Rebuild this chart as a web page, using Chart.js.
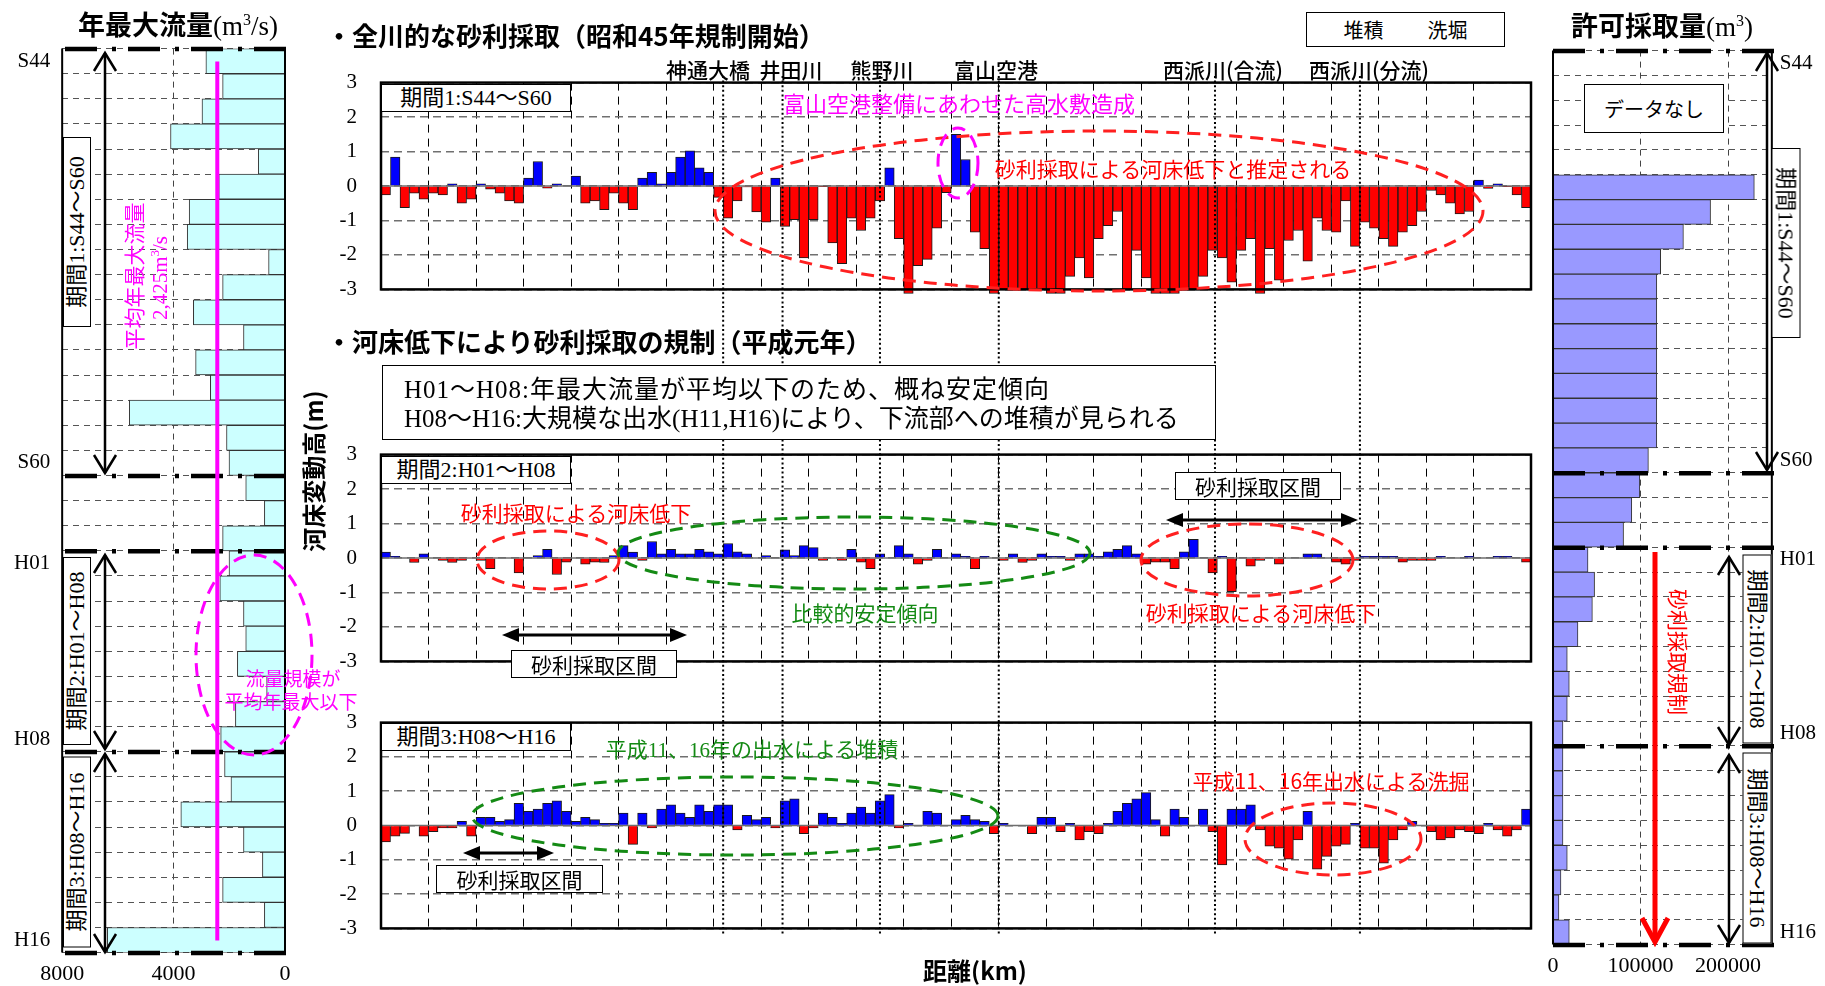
<!DOCTYPE html>
<html lang="ja">
<head>
<meta charset="utf-8">
<title>神通川 河床変動と砂利採取</title>
<script src="https://cdn.jsdelivr.net/npm/chart.js@4.4.1/dist/chart.umd.min.js"></script>
<style>
  html, body { margin: 0; padding: 0; background: #fff; }
  #page { position: relative; width: 1825px; height: 986px; overflow: hidden; background: #fff; }
  .wrap { position: absolute; left: 0; top: 0; }
  #overlay { position: absolute; left: 0; top: 0; pointer-events: none; }
  .jp { font-family: 'Noto Sans CJK JP', sans-serif; }
  .mix { font-family: 'Liberation Serif', 'Noto Sans CJK JP', serif; }
  .t { position: absolute; white-space: nowrap; line-height: 1; transform: translate(-50%, -50%); }
  .l { position: absolute; white-space: nowrap; line-height: 1; transform: translate(0, -50%); }
  .box { position: absolute; box-sizing: border-box; border: 1.5px solid #000; background: #fff;
         display: flex; align-items: center; justify-content: center; white-space: nowrap; line-height: 1; }
  .rot { transform: translate(-50%, -50%) rotate(-90deg); }
  .rotR { transform: translate(-50%, -50%) rotate(90deg); }
  .mag { color: #ff00ff; }
  .red { color: #ff0000; }
  .grn { color: #148a14; }
  .lm { font-size: 21px; font-weight: 500; }
</style>
</head>
<body>
<div id="page">
  <div class="wrap" id="wFlow"><canvas id="flowChart" width="320" height="986"></canvas></div>
  <div class="wrap" id="wBed1"><canvas id="bed1" width="1250" height="240"></canvas></div>
  <div class="wrap" id="wBed2"><canvas id="bed2" width="1250" height="240"></canvas></div>
  <div class="wrap" id="wBed3"><canvas id="bed3" width="1250" height="240"></canvas></div>
  <div class="wrap" id="wPermit"><canvas id="permitChart" width="300" height="986"></canvas></div>
  <svg id="overlay" width="1825" height="986" xmlns="http://www.w3.org/2000/svg"></svg>

  <!-- 見出し -->
  <div class="t" style="left:178px;top:25px;font-size:27px;"><b class="jp">年最大流量</b><span class="mix">(m<sup style="font-size:16px">3</sup>/s)</span></div>
  <div class="t" style="left:1662px;top:26px;font-size:27px;"><b class="jp">許可採取量</b><span class="mix">(m<sup style="font-size:16px">3</sup>)</span></div>
  <div class="l jp" style="left:326px;top:35px;font-size:26px;font-weight:bold;">・全川的な砂利採取（昭和45年規制開始）</div>
  <div class="l jp" style="left:326px;top:341px;font-size:26px;font-weight:bold;">・河床低下により砂利採取の規制（平成元年）</div>
  <div class="box jp" style="left:1306px;top:12px;width:199px;height:35px;font-size:20px;"><span style="margin-right:44px">堆積</span><span>洗堀</span></div>

  <!-- 地点名 -->
  <div class="t jp lm" style="left:708px;top:69px;">神通大橋</div>
  <div class="t jp lm" style="left:791px;top:69px;">井田川</div>
  <div class="t jp lm" style="left:882px;top:69px;">熊野川</div>
  <div class="t jp lm" style="left:996px;top:69px;">富山空港</div>
  <div class="t jp lm" style="left:1223px;top:69px;">西派川(合流)</div>
  <div class="t jp lm" style="left:1369px;top:69px;">西派川(分流)</div>

  <!-- 期間ラベル（中央） -->
  <div class="box mix" style="left:381px;top:84px;width:190px;height:28px;font-size:22px;">期間1:S44～S60</div>
  <div class="box mix" style="left:381px;top:456px;width:190px;height:28px;font-size:22px;">期間2:H01～H08</div>
  <div class="box mix" style="left:381px;top:723px;width:190px;height:28px;font-size:22px;">期間3:H08～H16</div>

  <div class="box mix" style="left:382px;top:365px;width:834px;height:75px;font-size:25px;display:block;">
    <div style="position:absolute;left:21px;top:11px;letter-spacing:1px;">H01～H08:年最大流量が平均以下のため、概ね安定傾向</div>
    <div style="position:absolute;left:21px;top:40px;">H08～H16:大規模な出水(H11,H16)により、下流部への堆積が見られる</div>
  </div>

  <!-- 期間1の注記 -->
  <div class="t jp mag" style="left:959px;top:102px;font-size:22px;">富山空港整備にあわせた高水敷造成</div>
  <div class="t jp red" style="left:1173px;top:168px;font-size:21px;">砂利採取による河床低下と推定される</div>

  <!-- 期間2の注記 -->
  <div class="t jp red" style="left:576px;top:512px;font-size:21px;">砂利採取による河床低下</div>
  <div class="t jp grn" style="left:865px;top:612px;font-size:21px;">比較的安定傾向</div>
  <div class="t jp red" style="left:1261px;top:612px;font-size:21px;">砂利採取による河床低下</div>
  <div class="box jp" style="left:511px;top:650px;width:166px;height:28px;font-size:21px;">砂利採取区間</div>
  <div class="box jp" style="left:1175px;top:472px;width:166px;height:28px;font-size:21px;">砂利採取区間</div>

  <!-- 期間3の注記 -->
  <div class="t mix grn" style="left:752px;top:750px;font-size:21px;">平成11、16年の出水による堆積</div>
  <div class="t jp red" style="left:1331px;top:780px;font-size:21px;">平成11、16年出水による洗掘</div>
  <div class="box jp" style="left:436px;top:865px;width:167px;height:28px;font-size:21px;">砂利採取区間</div>

  <!-- 軸タイトル -->
  <div class="t jp rot" style="left:313px;top:471px;font-size:24px;font-weight:bold;">河床変動高(m)</div>
  <div class="t jp" style="left:975px;top:970px;font-size:24px;font-weight:bold;">距離(km)</div>

  <!-- 年最大流量側 -->
  <div class="box mix rot" style="left:77px;top:232px;width:190px;height:28px;font-size:22px;">期間1:S44～S60</div>
  <div class="box mix rot" style="left:77px;top:651px;width:188px;height:28px;font-size:22px;">期間2:H01～H08</div>
  <div class="box mix rot" style="left:77px;top:852px;width:191px;height:28px;font-size:22px;">期間3:H08～H16</div>
  <div class="t jp mag rot" style="left:133px;top:276px;font-size:21px;">平均年最大流量</div>
  <div class="t mix mag rot" style="left:159px;top:278px;font-size:21px;">2,425m<sup style="font-size:13px">3</sup>/s</div>
  <div class="t jp mag" style="left:293px;top:677px;font-size:19px;">流量規模が</div>
  <div class="t jp mag" style="left:291px;top:700px;font-size:19px;">平均年最大以下</div>

  <!-- 許可採取量側 -->
  <div class="box jp" style="left:1584px;top:84px;width:140px;height:49px;font-size:20px;">データなし</div>
  <div class="box mix rotR" style="left:1786px;top:243px;width:190px;height:29px;font-size:22px;">期間1:S44～S60</div>
  <div class="box mix rotR" style="left:1757px;top:649px;width:189px;height:29px;font-size:22px;">期間2:H01～H08</div>
  <div class="box mix rotR" style="left:1757px;top:848px;width:191px;height:29px;font-size:22px;">期間3:H08～H16</div>
  <div class="t jp red rotR" style="left:1678px;top:652px;font-size:21px;">砂利採取規制</div>
</div>

<script>
// 年（昭和44年～平成16年）
const years = ['S44','S45','S46','S47','S48','S49','S50','S51','S52','S53','S54','S55',
  'S56','S57','S58','S59','S60','S61','S62','S63','H01','H02','H03','H04','H05','H06',
  'H07','H08','H09','H10','H11','H12','H13','H14','H15','H16'];
const yearTicks = ['S44', 'S60', 'H01', 'H08', 'H16'];
// 期間の区切り（その年の行の上端に太い一点鎖線）
const periodStarts = ['S44', 'S61', 'H01', 'H09'];

// 年最大流量 (m3/s)
const annualMaxFlow = [2840, 2240, 2980, 4110, 960, 2380, 3440, 3510, 590, 2240, 3290, 1490,
  3210, 2680, 5590, 2100, 2010, 1410, 740, 2240, 2010, 2340, 1490, 1410, 1710, 660,
  1780, 2310, 2170, 1940, 3740, 1490, 810, 2240, 740, 6380];
const meanMaxFlow = 2425;
const flowTicks = [0, 4000, 8000];

// 許可採取量 (m3)  S44～S48はデータなし
const permitVolume = [null, null, null, null, null, 230000, 180000, 149000, 123000, 118600,
  118600, 118600, 118600, 118600, 118600, 118600, 109000, 99200, 90000, 80600, 40000,
  47500, 45000, 28500, 16300, 18600, 16300, 11400, 11400, 11400, 11400, 11400, 16300,
  9100, 6800, 18600];
const permitTicks = [0, 100000, 200000];

// 距離 (km)：0.2kmピッチの区間中心
const distanceKm = Array.from({ length: 121 }, (_, i) => Math.round((0.1 + i * 0.2) * 10) / 10);

// 地点
const landmarkNames = ['神通大橋', '井田川', '熊野川', '富山空港', '西派川(合流)', '西派川(分流)'];
const landmarkKm = [7.2, 8.45, 10.5, 13.0, 17.55, 20.6];

// 河床変動高 (m)  期間1:S44～S60
const bedChange1 = [
  -0.26, 0.84, -0.63, -0.21, -0.38, -0.21, -0.26, 0.06, -0.50, -0.38,
  0.06, -0.09, -0.21, -0.43, -0.50, 0.23, 0.71, -0.06, 0.06, 0,
  0.29, -0.50, -0.43, -0.69, -0.21, -0.50, -0.69, 0.23, 0.40, 0.06,
  0.40, 0.84, 1.02, 0.53, 0.40, -0.33, -0.93, -0.43, -0.03, -0.75,
  -1.05, 0.23, -1.17, -0.98, -2.09, -0.98, -0.02, -1.65, -2.25, -0.93,
  -1.29, -0.93, -0.43, 0.53, -1.53, -3.12, -2.31, -2.13, -1.22, -0.19,
  1.50, 0.77, -1.34, -1.82, -3.12, -3.00, -3.00, -3.00, -3.00, -3.00,
  -3.12, -3.12, -2.62, -2.09, -2.67, -1.53, -1.15, -0.74, -3.00, -1.87,
  -2.67, -3.12, -3.12, -3.12, -3.00, -3.00, -2.62, -1.87, -2.09, -2.79,
  -1.87, -1.53, -3.12, -1.82, -2.73, -1.58, -1.29, -2.18, -0.93, -1.29,
  -1.34, -0.43, -1.75, -1.05, -1.22, -1.53, -1.75, -1.34, -1.15, -0.74,
  -0.13, -0.26, -0.50, -0.81, -0.74, 0.17, -0.07, 0.06, -0.02, -0.26,
  -0.63];

// 期間2:H01～H08
const bedChange2 = [
  0.17, 0.05, 0, -0.13, 0.12, 0, -0.07, -0.13, -0.07, 0,
  -0.07, -0.31, 0, 0, -0.43, 0, 0.07, 0.25, -0.48, -0.12,
  0, -0.18, -0.12, -0.13, 0.07, 0.36, 0.17, -0.07, 0.48, 0.12,
  0.25, 0.12, 0.12, 0.25, 0.18, 0.12, 0.42, 0.18, 0.12, 0,
  0.07, 0, 0.24, 0.07, 0.36, 0.30, -0.07, 0, -0.07, 0.25,
  -0.12, -0.31, 0.12, 0, 0.36, 0.12, -0.18, -0.07, 0.25, 0,
  0.12, 0.05, -0.31, 0.05, 0, -0.07, 0.12, -0.13, -0.07, 0.12,
  0.05, 0.05, -0.07, 0.12, 0.12, 0.05, 0.18, 0.25, 0.36, 0.12,
  -0.18, -0.12, -0.12, -0.31, 0.18, 0.54, 0, -0.43, 0.05, -0.98,
  0, -0.24, -0.07, 0, -0.18, 0, 0, 0.12, 0.12, 0,
  -0.12, -0.18, -0.07, 0.05, 0.05, 0.05, 0.05, -0.12, -0.07, -0.07,
  -0.07, 0.05, 0, 0, 0.05, 0, 0, 0.05, 0.05, 0,
  -0.12];

// 期間3:H08～H16
const bedChange3 = [
  -0.48, -0.31, -0.23, 0, -0.31, -0.18, -0.07, -0.07, 0.12, -0.31,
  0.24, 0.24, 0.12, 0.17, 0.65, 0.41, 0.48, 0.65, 0.72, 0.41,
  0.12, 0.24, 0.17, 0.06, 0.06, 0.36, -0.55, 0.36, -0.07, 0.48,
  0.60, 0.36, 0.24, 0.60, 0.41, 0.60, 0.60, -0.13, 0.30, 0.17,
  0.24, -0.07, 0.72, 0.78, -0.24, -0.07, 0.36, 0.24, 0.06, 0.36,
  0.54, 0.36, 0.72, 0.90, -0.07, 0.06, 0, 0.41, 0.36, 0,
  0.17, 0.30, 0.17, 0.12, -0.24, 0.06, 0, 0, -0.24, 0.24,
  0.24, -0.18, 0.06, -0.42, -0.18, -0.24, 0.06, 0.41, 0.65, 0.78,
  0.96, 0.17, -0.31, 0.48, 0.24, 0, 0.48, -0.18, -1.15, 0.48,
  0.48, 0.60, -0.13, -0.60, -0.66, -0.98, -0.42, 0.41, -1.27, -0.90,
  -0.60, -0.55, 0.06, -0.66, -0.66, -1.10, -0.42, -0.13, 0.12, 0,
  -0.18, -0.42, -0.36, -0.13, -0.18, -0.24, 0.06, -0.13, -0.31, -0.13,
  0.48];

Chart.defaults.font.family = "'Liberation Serif', 'Times New Roman', serif";
Chart.defaults.color = '#000';

const noLegend = { legend: { display: false }, tooltip: { enabled: false } };

// 左右の縦枠線
const sideFrame = {
  id: 'sideFrame',
  afterDraw(chart) {
    const { ctx, chartArea: a } = chart;
    ctx.save();
    ctx.strokeStyle = '#000';
    ctx.lineWidth = 2;
    ctx.beginPath();
    ctx.moveTo(a.left, a.top); ctx.lineTo(a.left, a.bottom);
    ctx.moveTo(a.right, a.top); ctx.lineTo(a.right, a.bottom);
    ctx.stroke();
    ctx.restore();
  }
};

// 河床変動グラフの0線と外枠
const bedFrame = {
  id: 'bedFrame',
  beforeDatasetsDraw(chart) {
    const { ctx, chartArea: a, scales } = chart;
    const y0 = scales.y.getPixelForValue(0);
    ctx.save();
    ctx.strokeStyle = '#6e6e6e';
    ctx.lineWidth = 1.5;
    ctx.beginPath();
    ctx.moveTo(a.left, y0); ctx.lineTo(a.right, y0);
    ctx.stroke();
    ctx.restore();
  },
  afterDraw(chart) {
    const { ctx, chartArea: a } = chart;
    ctx.save();
    ctx.strokeStyle = '#000';
    ctx.lineWidth = 2.5;
    ctx.strokeRect(a.left, a.top, a.right - a.left, a.bottom - a.top);
    ctx.restore();
  }
};

function yearTick(v, i) {
  return yearTicks.includes(years[i]) ? years[i] : '';
}

const flowChart = new Chart(document.getElementById('flowChart'), {
  type: 'bar',
  data: {
    labels: years,
    datasets: [{
      data: annualMaxFlow,
      backgroundColor: '#ccffff',
      borderColor: '#333',
      borderWidth: 1,
      barPercentage: 1,
      categoryPercentage: 1
    }]
  },
  options: {
    indexAxis: 'y',
    responsive: false,
    maintainAspectRatio: false,
    animation: false,
    layout: { padding: { top: 10, right: 14, bottom: 2, left: 4 } },
    plugins: noLegend,
    scales: {
      x: {
        reverse: true, min: 0, max: 8000,
        afterBuildTicks: s => { s.ticks = flowTicks.map(v => ({ value: v })); },
        ticks: { padding: 8, maxRotation: 0, autoSkip: false, font: { size: 22 },
                 callback: v => String(v) },
        grid: { color: c => (c.tick && c.tick.value === 4000) ? '#444' : 'rgba(0,0,0,0)', drawTicks: false },
        border: { display: false, dash: [6, 5] }
      },
      y: {
        ticks: { autoSkip: false, padding: 12, callback: yearTick, font: { size: 21 } },
        grid: { color: '#555', drawTicks: false },
        border: { display: false, dash: [6, 5] }
      }
    }
  },
  plugins: [sideFrame]
});

const permitChart = new Chart(document.getElementById('permitChart'), {
  type: 'bar',
  data: {
    labels: years,
    datasets: [{
      data: permitVolume,
      backgroundColor: '#9999ff',
      borderColor: '#333',
      borderWidth: 1,
      barPercentage: 1,
      categoryPercentage: 1
    }]
  },
  options: {
    indexAxis: 'y',
    responsive: false,
    maintainAspectRatio: false,
    animation: false,
    layout: { padding: { top: 10, right: 4, bottom: 2, left: 14 } },
    plugins: noLegend,
    scales: {
      x: {
        min: 0, max: 250000,
        afterBuildTicks: s => { s.ticks = permitTicks.map(v => ({ value: v })); },
        ticks: { padding: 8, maxRotation: 0, autoSkip: false, font: { size: 22 },
                 callback: v => String(v) },
        grid: { color: c => (c.tick && c.tick.value > 0) ? '#444' : 'rgba(0,0,0,0)', drawTicks: false },
        border: { display: false, dash: [6, 5] }
      },
      y: {
        position: 'right',
        ticks: { autoSkip: false, padding: 8, callback: yearTick, font: { size: 21 } },
        grid: { color: '#555', drawTicks: false },
        border: { display: false, dash: [6, 5] }
      }
    }
  },
  plugins: [sideFrame]
});

function bedConfig(values) {
  return {
    type: 'bar',
    data: {
      datasets: [{
        data: distanceKm.map((x, i) => ({ x: x, y: values[i] })),
        backgroundColor: c => (c.parsed.y >= 0 ? '#0000ff' : '#ff0000'),
        borderColor: '#1a1a1a',
        borderWidth: 1,
        barPercentage: 1,
        categoryPercentage: 1,
        clip: { left: 0, top: 0, right: 0, bottom: 6 }
      }]
    },
    options: {
      responsive: false,
      maintainAspectRatio: false,
      animation: false,
      layout: { padding: { top: 14, right: 10, bottom: 14, left: 0 } },
      plugins: noLegend,
      scales: {
        x: {
          type: 'linear', min: 0, max: 24.2, offset: false,
          ticks: { display: false, stepSize: 1 },
          grid: { color: '#000', lineWidth: 1, drawTicks: false, offset: false },
          border: { display: false, dash: [8, 6] }
        },
        y: {
          min: -3, max: 3,
          ticks: { stepSize: 1, padding: 24, font: { size: 21 } },
          grid: { color: '#707070', lineWidth: 1.5, drawTicks: false },
          border: { display: false, dash: [8, 5] },
          afterFit: s => { s.width = 81; }
        }
      }
    },
    plugins: [bedFrame]
  };
}

const bed1 = new Chart(document.getElementById('bed1'), bedConfig(bedChange1));
const bed2 = new Chart(document.getElementById('bed2'), bedConfig(bedChange2));
const bed3 = new Chart(document.getElementById('bed3'), bedConfig(bedChange3));

// 描画領域をページ上の所定の位置・大きさに合わせる
function fitChart(chart, area) {
  for (let k = 0; k < 4; k++) {
    const a = chart.chartArea;
    const w = Math.round(chart.width + area.w - (a.right - a.left));
    const h = Math.round(chart.height + area.h - (a.bottom - a.top));
    if (w === chart.width && h === chart.height) break;
    chart.resize(w, h);
    chart.update('none');
  }
  const a = chart.chartArea;
  chart.pageLeft = area.x - a.left;
  chart.pageTop = area.y - a.top;
  const wrap = chart.canvas.parentNode;
  wrap.style.left = chart.pageLeft + 'px';
  wrap.style.top = chart.pageTop + 'px';
}

fitChart(flowChart, { x: 62, y: 49, w: 223, h: 904 });
fitChart(permitChart, { x: 1553, y: 51, w: 219, h: 894 });
fitChart(bed1, { x: 381, y: 83, w: 1150, h: 207 });
fitChart(bed2, { x: 381, y: 455, w: 1150, h: 207 });
fitChart(bed3, { x: 381, y: 723, w: 1150, h: 206 });

// ---- 注記（線・矢印・楕円） ----
const svg = document.getElementById('overlay');
function add(tag, attrs) {
  const el = document.createElementNS('http://www.w3.org/2000/svg', tag);
  for (const k in attrs) el.setAttribute(k, attrs[k]);
  svg.appendChild(el);
  return el;
}
function line(x1, y1, x2, y2, stroke, width, dash) {
  const at = { x1, y1, x2, y2, stroke, 'stroke-width': width };
  if (dash) at['stroke-dasharray'] = dash;
  return add('line', at);
}
function ellipse(cx, cy, rx, ry, color) {
  add('ellipse', { cx, cy, rx, ry, fill: 'none', stroke: color, 'stroke-width': 3, 'stroke-dasharray': '13 8' });
}
// 縦の両矢印（開いた矢じり）
function vArrow(x, y1, y2) {
  line(x, y1, x, y2, '#000', 2.5);
  add('polyline', { points: `${x - 11},${y1 + 18} ${x},${y1} ${x + 11},${y1 + 18}`, fill: 'none', stroke: '#000', 'stroke-width': 2.5 });
  add('polyline', { points: `${x - 11},${y2 - 18} ${x},${y2} ${x + 11},${y2 - 18}`, fill: 'none', stroke: '#000', 'stroke-width': 2.5 });
}
// 横の両矢印（塗りの矢じり）
function hArrow(x1, x2, y) {
  line(x1 + 10, y, x2 - 10, y, '#000', 3);
  add('polygon', { points: `${x1},${y} ${x1 + 17},${y - 7} ${x1 + 17},${y + 7}`, fill: '#000' });
  add('polygon', { points: `${x2},${y} ${x2 - 17},${y - 7} ${x2 - 17},${y + 7}`, fill: '#000' });
}

// 期間区切りの太い一点鎖線
function periodLines(chart, x1, x2) {
  const a = chart.chartArea;
  const rowH = (a.bottom - a.top) / years.length;
  const rows = periodStarts.map(y => years.indexOf(y)).concat([years.length]);
  rows.forEach(r => {
    const y = chart.pageTop + a.top + r * rowH;
    line(x1, y, x2, y, '#000', 4.5, '32 15 4 12');
  });
}
periodLines(flowChart, 65, 291);
periodLines(permitChart, 1553, 1776);

// 平均年最大流量
{
  const x = flowChart.pageLeft + flowChart.scales.x.getPixelForValue(meanMaxFlow);
  const y1 = flowChart.pageTop + flowChart.scales.y.getPixelForValue(0);
  const y2 = flowChart.pageTop + flowChart.scales.y.getPixelForValue(years.length - 1);
  line(x, y1, x, y2, '#ff00ff', 4);
}

// 地点の点線
landmarkKm.forEach(km => {
  const x = bed1.pageLeft + bed1.scales.x.getPixelForValue(km);
  line(x, 76, x, 936, '#000', 2, '2 2.6');
});

// 期間の両矢印
vArrow(105, 53, 473);
vArrow(105, 555, 749);
vArrow(105, 754, 952);
vArrow(1767, 53, 470);
vArrow(1729, 557, 745);
vArrow(1729, 755, 943);

// 砂利採取規制の矢印
line(1655, 552, 1655, 940, '#ff0000', 5);
add('polyline', { points: '1642,918 1655,942 1668,918', fill: 'none', stroke: '#ff0000', 'stroke-width': 5 });

// 楕円
ellipse(254, 655, 58, 100, '#ff00ff');
ellipse(1099, 211, 384, 80, '#ff2020');
ellipse(958, 163, 20, 35, '#ff00ff');
ellipse(548, 560, 71, 29, '#ff2020');
ellipse(854, 553, 236, 36, '#148a14');
ellipse(1247, 560, 106, 36, '#ff2020');
ellipse(735, 816, 263, 39, '#148a14');
ellipse(1333, 839, 88, 36, '#ff2020');

// 砂利採取区間
hArrow(502, 687, 635);
hArrow(1166, 1358, 520);
hArrow(463, 554, 853);
</script>
</body>
</html>
